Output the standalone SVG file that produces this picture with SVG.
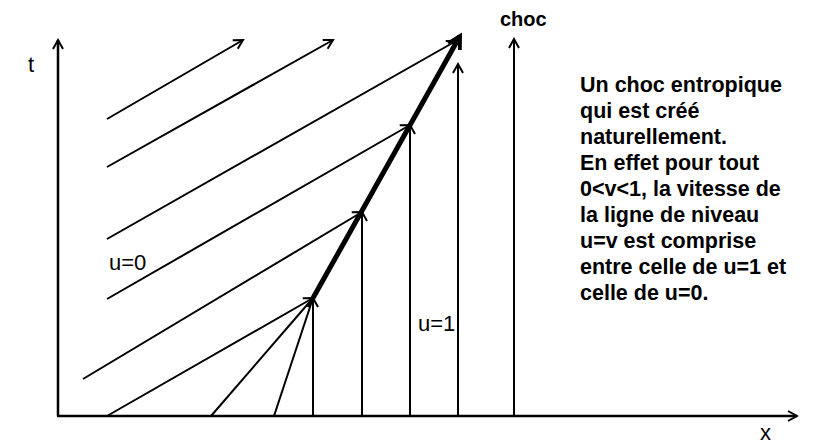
<svg xmlns="http://www.w3.org/2000/svg" width="814" height="445" viewBox="0 0 814 445">
<style>
.ln{stroke:#000;stroke-width:2;fill:none}
.ax{stroke:#000;stroke-width:2.5;fill:none}
.sh{stroke:#000;stroke-width:5;fill:none}
.lbl{font-family:"Liberation Sans",Arial,sans-serif;font-size:22px;fill:#000}
.b{font-family:"Liberation Sans",Arial,sans-serif;font-size:20px;font-weight:bold;fill:#000}
.note{font-family:"Liberation Sans",Arial,sans-serif;font-size:21.5px;font-weight:bold;fill:#000}
</style>
<defs>
<marker id="ar" markerWidth="14" markerHeight="14" refX="0" refY="0" viewBox="-12 -7 14 14" orient="auto" markerUnits="userSpaceOnUse">
<path d="M-9,-5 L0,0 L-9,5" stroke="#000" stroke-width="2" fill="none"/>
</marker>
<marker id="arb" markerWidth="20" markerHeight="20" refX="0" refY="0" viewBox="-14 -9 18 18" orient="auto" markerUnits="userSpaceOnUse">
<path d="M-11,-6 L0,0 L-11,6" stroke="#000" stroke-width="3.5" fill="none"/>
</marker>
</defs>
<rect width="814" height="445" fill="#fff"/>
<g id="connectors">
<line class="ax" x1="58" y1="416" x2="58" y2="40" marker-end="url(#ar)"/>
<line class="ax" x1="57" y1="416" x2="797" y2="416" marker-end="url(#ar)"/>
<line class="ln" x1="107" y1="119" x2="243" y2="40" marker-end="url(#ar)"/>
<line class="ln" x1="107" y1="167" x2="333" y2="40" marker-end="url(#ar)"/>
<line class="ln" x1="107" y1="239" x2="456" y2="41" marker-end="url(#ar)"/>
<line class="ln" x1="107" y1="299" x2="410" y2="125" marker-end="url(#ar)"/>
<line class="ln" x1="83" y1="379" x2="362" y2="212" marker-end="url(#ar)"/>
<line class="ln" x1="107" y1="416" x2="313" y2="298" marker-end="url(#ar)"/>
<line class="ln" x1="211" y1="416" x2="313" y2="298"/>
<line class="ln" x1="274" y1="416" x2="313" y2="298"/>
<line class="ln" x1="313" y1="416" x2="313" y2="298" marker-end="url(#ar)"/>
<line class="ln" x1="362" y1="416" x2="362" y2="212" marker-end="url(#ar)"/>
<line class="ln" x1="410" y1="416" x2="410" y2="125" marker-end="url(#ar)"/>
<line class="ln" x1="458" y1="416" x2="458" y2="64" marker-end="url(#ar)"/>
<line class="ln" x1="514" y1="416" x2="514" y2="39" marker-end="url(#ar)"/>
<line class="sh" x1="313" y1="298" x2="460" y2="36" marker-end="url(#arb)"/>
</g>
<g id="labels">
<text class="lbl" x="28" y="72">t</text>
<text class="lbl" x="109" y="270">u=0</text>
<text class="lbl" x="418" y="331">u=1</text>
<text class="lbl" x="760" y="440">x</text>
<text class="b" x="500" y="26">choc</text>
</g>
<g id="note" class="note">
<text x="580" y="92">Un choc entropique</text>
<text x="580" y="118">qui est créé</text>
<text x="580" y="144">naturellement.</text>
<text x="580" y="170">En effet pour tout</text>
<text x="580" y="196">0&lt;v&lt;1, la vitesse de</text>
<text x="580" y="222">la ligne de niveau</text>
<text x="580" y="248">u=v est comprise</text>
<text x="580" y="274">entre celle de u=1 et</text>
<text x="580" y="300">celle de u=0.</text>
</g>
</svg>
